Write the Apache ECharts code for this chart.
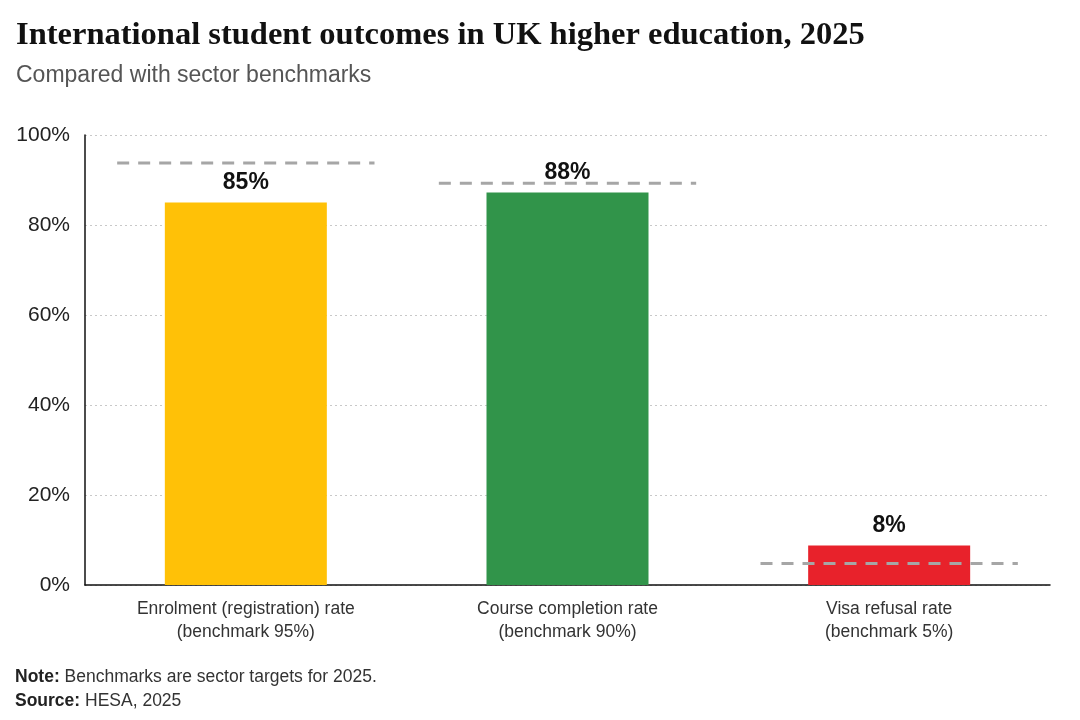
<!DOCTYPE html>
<html>
<head>
<meta charset="utf-8">
<script src="https://cdn.jsdelivr.net/npm/echarts@6/dist/echarts.min.js"></script>
<style>
  html, body { margin: 0; padding: 0; background: #fff; }
  #chart { width: 1080px; height: 720px; }
</style>
</head>
<body>
<div id="chart"></div>
<script>
// values
const categories = [
  'Enrolment (registration) rate\n(benchmark 95%)',
  'Course completion rate\n(benchmark 90%)',
  'Visa refusal rate\n(benchmark 5%)'
]
const outcomeValues = [85, 87.2, 8.8]
const outcomeLabels = ['85%', '88%', '8%']
const benchmarkValues = [93.8, 89.3, 4.8]
const barColors = ['#FFC107', '#31944A', '#E8222B']
const yTicks = [0, 20, 40, 60, 80, 100]

const SANS = '"Liberation Sans", Arial, Helvetica, sans-serif'
const SERIF = '"Liberation Serif", "DejaVu Serif", serif'

const chart = echarts.init(document.getElementById('chart'))

chart.setOption({
  animation: false,
  textStyle: { fontFamily: SANS },
  title: [
    {
      text: 'International student outcomes in UK higher education, 2025',
      left: 11, top: 14,
      textStyle: { fontFamily: SERIF, fontWeight: 'bold', fontSize: 32.5, color: '#111' }
    },
    {
      text: 'Compared with sector benchmarks',
      left: 11, top: 59,
      textStyle: { fontFamily: SANS, fontWeight: 'normal', fontSize: 23, color: '#555' }
    }
  ],
  grid: { left: 85, right: 30, top: 135, bottom: 135, containLabel: false },
  xAxis: {
    type: 'category',
    data: categories,
    axisLine: { lineStyle: { color: '#111', width: 1.5 } },
    axisTick: { show: false },
    axisLabel: { color: '#333', fontSize: 17.5, lineHeight: 23, margin: 13 }
  },
  yAxis: {
    type: 'value',
    min: yTicks[0],
    max: yTicks[yTicks.length - 1],
    interval: 20,
    axisLine: { show: true, lineStyle: { color: '#111', width: 1.5 } },
    axisTick: { show: false },
    axisLabel: { color: '#222', fontSize: 21, margin: 15, formatter: '{value}%' },
    splitLine: { lineStyle: { color: '#c8c8c8', type: [2, 3], width: 1 } }
  },
  series: [
    {
      type: 'bar',
      barWidth: 162,
      data: outcomeValues.map((v, i) => ({ value: v, itemStyle: { color: barColors[i] } })),
      label: {
        show: true,
        position: 'top',
        distance: 8,
        fontSize: 23,
        fontWeight: 'bold',
        color: '#111',
        formatter: p => outcomeLabels[p.dataIndex]
      },
      z: 2
    },
    {
      type: 'custom',
      z: 5,
      data: benchmarkValues.map((v, i) => [i, v]),
      renderItem: (params, api) => {
        const pt = api.coord([api.value(0), api.value(1)])
        const half = api.size([1, 0])[0] * 0.4
        return {
          type: 'line',
          shape: { x1: pt[0] - half, y1: pt[1], x2: pt[0] + half, y2: pt[1] },
          style: { stroke: '#a6a6a6', lineWidth: 3, lineDash: [12, 9] }
        }
      }
    }
  ],
  graphic: [
    {
      type: 'text', left: 15, top: 668,
      style: {
        text: '{b|Note:} Benchmarks are sector targets for 2025.',
        rich: {
          b: { fontWeight: 'bold', fontSize: 17.5, fill: '#222', fontFamily: SANS }
        },
        fontSize: 17.5, fill: '#333', fontFamily: SANS
      }
    },
    {
      type: 'text', left: 15, top: 692,
      style: {
        text: '{b|Source:} HESA, 2025',
        rich: {
          b: { fontWeight: 'bold', fontSize: 17.5, fill: '#222', fontFamily: SANS }
        },
        fontSize: 17.5, fill: '#333', fontFamily: SANS
      }
    }
  ]
})
</script>
</body>
</html>
